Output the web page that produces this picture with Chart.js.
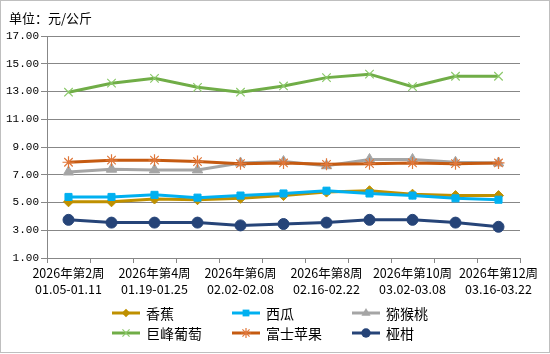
<!DOCTYPE html>
<html><head><meta charset="utf-8">
<script src="https://cdn.jsdelivr.net/npm/chart.js@4/dist/chart.umd.min.js"></script>
<style>
html,body{margin:0;padding:0;background:#fff;}
#wrap{position:relative;width:548px;height:351px;border:1px solid #bfbfbf;overflow:hidden;}
canvas{position:absolute;left:-1px;top:-1px;}
</style></head>
<body><div id="wrap"><canvas id="c" width="550" height="354"></canvas></div>
<script>
const weeks = ['2026年第2周','2026年第3周','2026年第4周','2026年第5周','2026年第6周','2026年第7周','2026年第8周','2026年第9周','2026年第10周','2026年第11周','2026年第12周'];
const dates = ['01.05-01.11','01.12-01.18','01.19-01.25','01.26-02.01','02.02-02.08','02.09-02.15','02.16-02.22','02.23-03.01','03.02-03.08','03.09-03.15','03.16-03.22'];
const seriesNames = ['香蕉','西瓜','猕猴桃','巨峰葡萄','富士苹果','桠柑'];
const banana = [5.05,5.05,5.25,5.2,5.3,5.5,5.75,5.85,5.6,5.5,5.5];
const watermelon = [5.4,5.4,5.55,5.35,5.5,5.65,5.85,5.65,5.5,5.3,5.2];
const kiwi = [7.2,7.4,7.35,7.35,7.85,7.95,7.65,8.1,8.1,7.9,7.85];
const grape = [12.95,13.6,13.95,13.3,12.95,13.4,14.0,14.25,13.35,14.1,14.1];
const apple = [7.9,8.05,8.05,7.95,7.8,7.85,7.75,7.8,7.85,7.8,7.85];
const tangerine = [3.75,3.55,3.55,3.55,3.35,3.45,3.55,3.75,3.75,3.55,3.25];
const yTicks = {min:1, max:17, step:2};

const styles = [
  {color:'#BF9000', point:'rectRot', r:5, pc:'#BF9000', pb:'#BF9000', pw:1},
  {color:'#00B0F0', point:'rect', r:5, pc:'#00B0F0', pb:'#00B0F0', pw:1},
  {color:'#A5A5A5', point:'triangle', r:6, pc:'#A5A5A5', pb:'#A5A5A5', pw:1},
  {color:'#70AD47', point:'crossRot', r:6, pc:'#8CC96B', pb:'#8CC96B', pw:1.2},
  {color:'#C55A11', point:'star', r:6, pc:'#E0773A', pb:'#E0773A', pw:1.2},
  {color:'#264478', point:'circle', r:5.5, pc:'#264478', pb:'#264478', pw:1}
];
const values = [banana, watermelon, kiwi, grape, apple, tangerine];

const datasets = values.map((v,i)=>({
  label: seriesNames[i], data: v,
  borderColor: styles[i].color, backgroundColor: styles[i].pc,
  borderWidth: 3, tension: 0,
  pointStyle: styles[i].point, pointRadius: styles[i].r,
  pointBackgroundColor: styles[i].pc, pointBorderColor: styles[i].pb,
  pointBorderWidth: styles[i].pw, order: 6 - i
}));

function drawMarker(ctx, style, r, x, y, fill, stroke, lw){
  ctx.save();
  ctx.fillStyle = fill; ctx.strokeStyle = stroke; ctx.lineWidth = lw;
  ctx.beginPath();
  if(style==='rectRot'){ ctx.moveTo(x,y-r); ctx.lineTo(x+r,y); ctx.lineTo(x,y+r); ctx.lineTo(x-r,y); ctx.closePath(); ctx.fill(); }
  else if(style==='rect'){ const s=r*0.8; ctx.rect(x-s,y-s,2*s,2*s); ctx.fill(); }
  else if(style==='triangle'){ ctx.moveTo(x,y-r); ctx.lineTo(x+r*0.9,y+r*0.55); ctx.lineTo(x-r*0.9,y+r*0.55); ctx.closePath(); ctx.fill(); }
  else if(style==='circle'){ ctx.arc(x,y,r,0,Math.PI*2); ctx.fill(); }
  else if(style==='crossRot'){ const d=r*0.7; ctx.moveTo(x-d,y-d); ctx.lineTo(x+d,y+d); ctx.moveTo(x+d,y-d); ctx.lineTo(x-d,y+d); ctx.stroke(); }
  else if(style==='star'){ const d=r*0.7; ctx.moveTo(x-d,y-d); ctx.lineTo(x+d,y+d); ctx.moveTo(x+d,y-d); ctx.lineTo(x-d,y+d); ctx.moveTo(x,y-r); ctx.lineTo(x,y+r); ctx.moveTo(x-r,y); ctx.lineTo(x+r,y); ctx.stroke(); }
  ctx.restore();
}

const extras = {
  id:'extras',
  afterDraw(chart){
    const ctx = chart.ctx;
    ctx.save();
    ctx.fillStyle = '#000';
    ctx.font = '13px "Noto Sans CJK SC"';
    ctx.textBaseline = 'middle';
    ctx.fillText('单位：元/公斤', 9, 18);
    const cols = [112, 232, 352], rows = [313, 333];
    chart.data.datasets.forEach((ds,i)=>{
      const x = cols[i%3], y = rows[Math.floor(i/3)];
      const s = styles[i];
      ctx.strokeStyle = s.color; ctx.lineWidth = 3;
      ctx.beginPath(); ctx.moveTo(x,y); ctx.lineTo(x+28,y); ctx.stroke();
      drawMarker(ctx, s.point, s.r*0.85, x+14, y, s.pc, s.pb, s.pw);
      ctx.fillStyle = '#000';
      ctx.font = '14px "Noto Sans CJK SC"';
      ctx.textBaseline = 'middle';
      ctx.fillText(ds.label, x+34, y+1);
    });
    ctx.restore();
  }
};

new Chart(document.getElementById('c'), {
  type:'line',
  data:{ labels: weeks, datasets },
  plugins:[extras],
  options:{
    responsive:false, animation:false,
    layout:{ padding:{ top:36, right:30, bottom:52, left:0 } },
    plugins:{ legend:{display:false}, tooltip:{enabled:false} },
    scales:{
      x:{
        offset:true,
        grid:{ display:true, drawOnChartArea:false, drawTicks:true, tickLength:5, offset:true, color:'#878787' },
        border:{ color:'#878787', width:1 },
        ticks:{
          autoSkip:false, maxRotation:0, minRotation:0, padding:2, color:'#000',
          font:{ family:'"Liberation Sans Narrow", "Noto Sans CJK SC"', size:12.5, lineHeight:1.3 },
          callback:(v,i)=> i%2===0 ? [weeks[i], dates[i]] : ''
        },
        afterFit(s){ s.height = 44; }
      },
      y:{
        min:yTicks.min, max:yTicks.max,
        grid:{ color:'#878787', lineWidth:1, tickLength:6, drawTicks:true },
        border:{ color:'#878787', width:1 },
        ticks:{ stepSize:yTicks.step, padding:2, color:'#000',
          font:{ family:'"Liberation Mono"', size:11 },
          callback:(v)=> Number(v).toFixed(2) },
        afterFit(s){ s.width = 47; }
      }
    }
  }
});
</script></body></html>
